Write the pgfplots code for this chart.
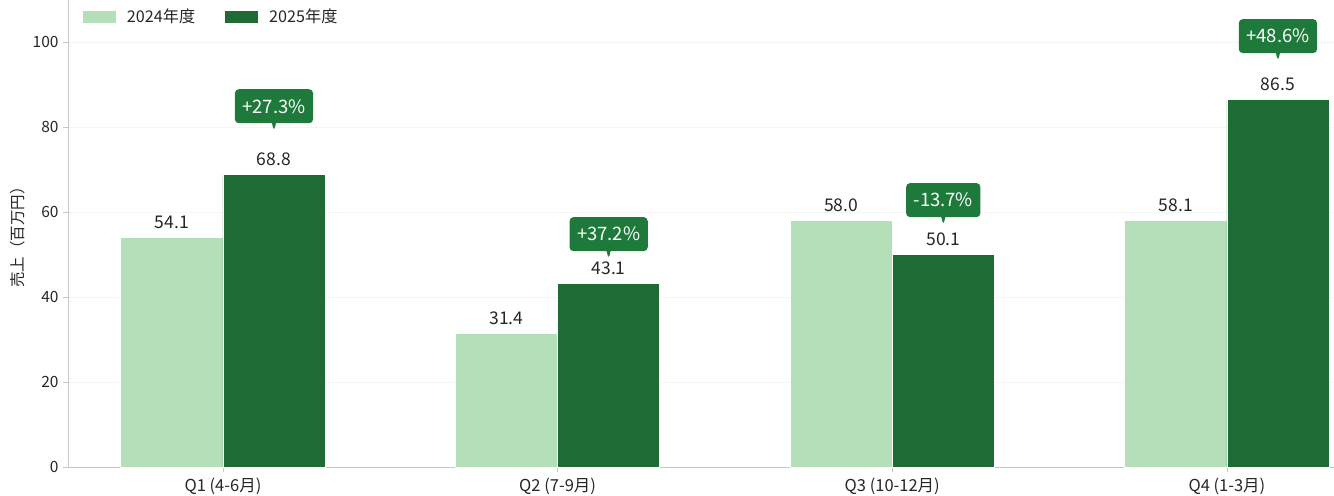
\documentclass[border=0pt]{standalone}
\usepackage{pgfplots}
\pgfplotsset{compat=1.18}
\usepackage{fontspec}
\setmainfont{Noto Sans CJK JP}
\usetikzlibrary{shapes.callouts}
\definecolor{lightg}{HTML}{B5DFB9}
\definecolor{darkg}{HTML}{1E6B35}
\definecolor{boxg}{HTML}{1E7A3A}
\definecolor{txt}{HTML}{262626}
\definecolor{axg}{HTML}{C8C8C8}
\pgfkeys{/pgf/number format/assume math mode=true}

\pgfplotstableread{
x y
0 54.1
1 31.4
2 58.0
3 58.1
}\tablea
\pgfplotstableread{
x y
0 68.8
1 43.1
2 50.1
3 86.5
}\tableb

\begin{document}
\begin{tikzpicture}
\begin{axis}[
  scale only axis,
  width=1266bp, height=467bp,
  xmin=-0.463, xmax=3.32,
  ymin=0, ymax=109.9,
  ybar, bar width=0.305,
  axis x line*=bottom, axis y line*=left,
  axis line style={axg, line width=0.8bp},
  xtick={0,1,2,3},
  xticklabels={Q1 (4-6月), Q2 (7-9月), Q3 (10-12月), Q4 (1-3月)},
  ytick={0,20,40,60,80,100},
  tick align=outside,
  major tick length=5bp,
  tick style={axg, line width=0.8bp},
  ymajorgrids,
  grid style={gray!8, line width=0.8bp},
  ticklabel style={font=\fontsize{15.5bp}{18bp}\selectfont, text=txt},
  yticklabel style={xshift=-1bp},
  xticklabel style={yshift=-2bp, font=\fontsize{16.5bp}{19bp}\selectfont},
  ylabel={売上（百万円）},
  every axis y label/.style={at={(axis description cs:-0.0395,0.5)}, rotate=90, anchor=center, font=\fontsize{15.5bp}{18bp}\selectfont, text=txt},
  legend style={at={(axis description cs:0,1)}, anchor=north west, xshift=12bp, yshift=-5bp, draw=none, fill=none,
    font=\fontsize{16.2bp}{19bp}\selectfont, text=txt, legend columns=2,
    /tikz/every odd column/.append style={column sep=9bp},
    /tikz/every even column/.append style={column sep=28bp}},
  legend cell align=left,
]
\addplot[bar shift=-0.1525, fill=lightg, draw=white, line width=0.8bp,
  legend image code/.code={\fill[lightg] (0bp,-5.5bp) rectangle (32bp,5.5bp);},
  nodes near coords,
  every node near coord/.append style={font=\fontsize{17.5bp}{20bp}\selectfont, text=txt, anchor=south, yshift=5bp,
    /pgf/number format/fixed, /pgf/number format/fixed zerofill, /pgf/number format/precision=1}]
  table[x=x, y=y] {\tablea};
\addlegendentry{2024年度}
\addplot[bar shift=0.1525, fill=darkg, draw=white, line width=0.8bp,
  legend image code/.code={\fill[darkg] (0bp,-5.5bp) rectangle (32bp,5.5bp);},
  nodes near coords,
  every node near coord/.append style={font=\fontsize{17.5bp}{20bp}\selectfont, text=txt, anchor=south, yshift=5bp,
    /pgf/number format/fixed, /pgf/number format/fixed zerofill, /pgf/number format/precision=1}]
  table[x=x, y=y] {\tableb};
\addlegendentry{2025年度}
\addplot[bar shift=0, draw=none, fill=none, forget plot, point meta=explicit symbolic,
  nodes near coords,
  every node near coord/.append style={rectangle callout, callout relative pointer={(0bp,-8bp)}, callout pointer width=4bp,
    rounded corners=4bp, fill=boxg, text=white, anchor=center, yshift=0bp, font=\fontsize{18.5bp}{21bp}\selectfont,
    minimum height=34bp, inner xsep=7.5bp, inner ysep=0bp}]
  coordinates {(0.1525,84.9) [+27.3\%] (1.1525,54.8) [+37.2\%] (2.1525,62.8) [-13.7\%] (3.1525,101.4) [+48.6\%]};
\end{axis}
\pgfresetboundingbox
\path[use as bounding box] (-68bp,-29bp) rectangle (1266bp,467bp);
\end{tikzpicture}
\end{document}
